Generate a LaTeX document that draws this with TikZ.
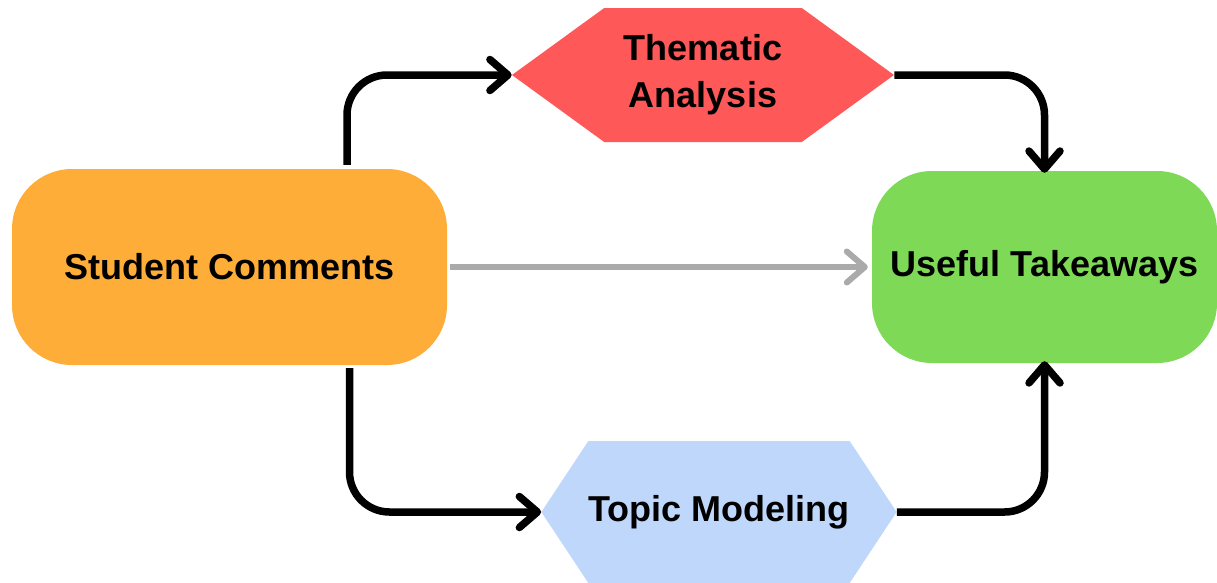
\documentclass[tikz,border=0pt]{standalone}
\usepackage{fontspec}
\setmainfont{Liberation Sans}
\usetikzlibrary{shapes.symbols,arrows.meta}

\definecolor{commentorange}{RGB}{253,173,56}
\definecolor{takeawaygreen}{RGB}{126,217,87}
\definecolor{thematicred}{RGB}{255,88,88}
\definecolor{topicblue}{RGB}{190,215,250}
\definecolor{directgray}{RGB}{170,170,170}

\begin{document}
\begin{tikzpicture}[x=1pt, y=-1pt,
        every node/.style={font=\bfseries\fontsize{36}{47}\selectfont, align=center, inner sep=0pt},
        pill/.style={rounded corners=60pt},
        hexa/.style={signal, signal to=east and west},
        flow/.style={line width=7.5pt, rounded corners=40pt,
            -{Straight Barb[length=18pt, width=31pt, round]}}]
    \useasboundingbox (0, 0) rectangle (1217, 582);

    \node[pill, fill=commentorange, minimum width=435pt, minimum height=196pt] (sc) at (229.5, 267) {Student Comments};
    \node[pill, fill=takeawaygreen, minimum width=345pt, minimum height=192pt] (ut) at (1044.5, 267) {Useful Takeaways};
    \node[hexa, fill=thematicred, signal pointer angle=72, minimum width=382pt, minimum height=134pt] (ta) at (703, 75) {Thematic\\Analysis};
    \node[hexa, fill=topicblue, signal pointer angle=113, minimum width=352pt, minimum height=142pt] (tm) at (719, 512) {Topic Modeling};

    \draw[flow] ([xshift=117.5pt, yshift=4pt]sc.north) |- (ta.west);
    \draw[flow] (ta.east) -| ([yshift=-2pt]ut.north);
    \draw[flow, draw=directgray, line width=6pt, shorten <=3pt, shorten >=4pt] (sc.east) -- (ut.west);
    \draw[flow] ([xshift=120pt, yshift=-3pt]sc.south) |- (tm.west);
    \draw[flow] (tm.east) -| ([yshift=2pt]ut.south);
\end{tikzpicture}
\end{document}
